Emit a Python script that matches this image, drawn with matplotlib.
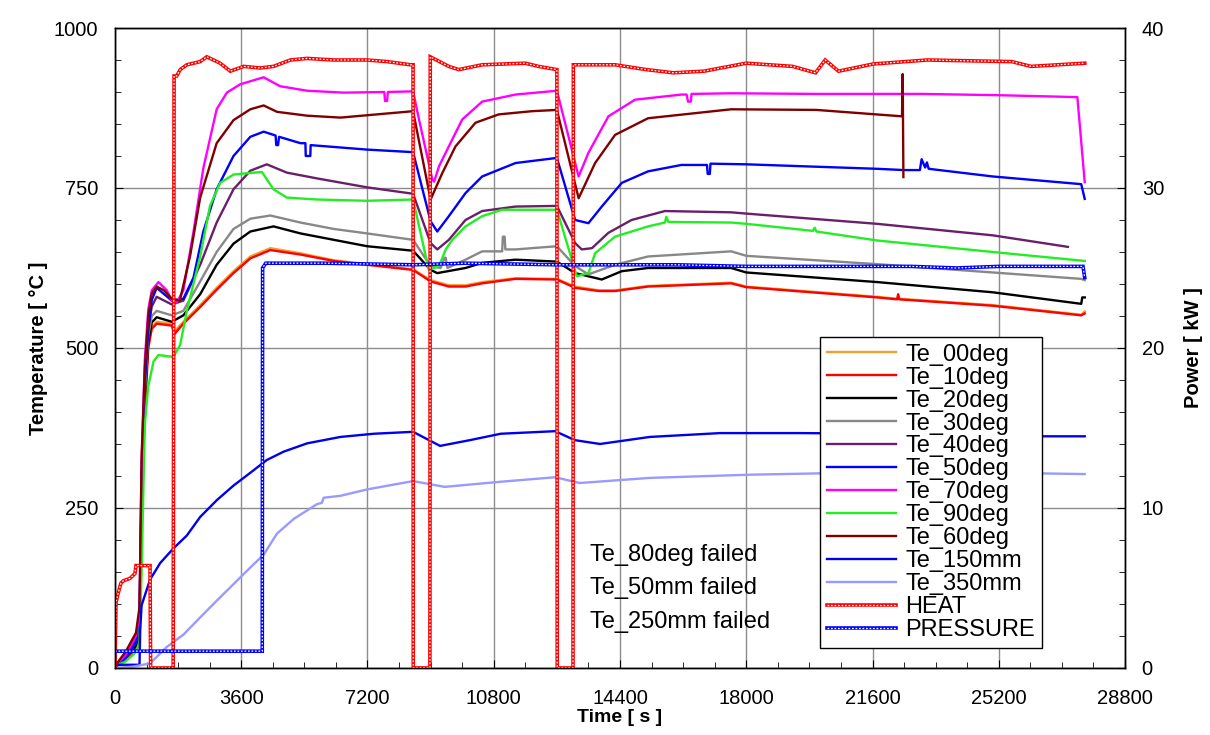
import matplotlib
matplotlib.use('Agg')
import matplotlib.pyplot as plt
from matplotlib.ticker import MultipleLocator

plt.rcParams['font.family'] = ['Liberation Sans', 'DejaVu Sans']

# temperature readings: time [s] / temperature [C]
t_10 = [0, 300, 600, 700, 760, 850, 950, 1050, 1190, 1620, 1700, 1950, 2430, 2900, 3380, 3860, 4430, 5290, 6240, 7190,
        8500, 9000, 9520, 9995, 10470, 11420, 12600, 13120, 13800, 14260, 15200, 17570, 18000, 21730, 22300, 22330,
        22360, 25030, 27550, 27650]
te_10 = [3, 12, 30, 50, 240, 400, 500, 530, 538, 535, 522, 538, 564, 591, 617, 640, 653, 646, 636, 630,
         622, 604, 596, 596, 601, 608, 607, 594, 589, 589, 596, 601, 595, 579, 576, 584,
         576, 566, 551, 554]
t_00 = t_10
te_00 = [4, 14, 33, 55, 250, 405, 505, 533, 541, 538, 526, 541, 567, 594, 620, 643, 656, 648, 637, 631,
         623, 606, 598, 598, 603, 609, 608, 596, 590, 590, 597, 602, 596, 580, 577, 580,
         577, 567, 552, 557]

t_20 = [0, 300, 600, 700, 760, 850, 950, 1050, 1190, 1620, 1950, 2430, 2900, 3380, 3860, 4520, 5290, 6240, 7190,
        8500, 9000, 9190, 9995, 10470, 11420, 12600, 13120, 13500, 13880, 14450, 15200, 17570, 18000, 21730,
        25030, 27550, 27580, 27650]
te_20 = [3, 15, 35, 60, 260, 420, 510, 540, 548, 541, 551, 584, 630, 663, 682, 690, 679, 669, 659,
         652, 622, 617, 625, 633, 638, 635, 617, 612, 607, 620, 625, 625, 618, 603,
         587, 569, 579, 579]

t_30 = [0, 300, 600, 700, 760, 850, 950, 1050, 1190, 1620, 1950, 2430, 2900, 3380, 3860, 4430, 5290, 6240, 7190,
        8500, 9000, 9285, 9400, 9430, 9480, 9995, 10470, 11040, 11060, 11110, 11130, 11420, 12600, 13120, 13500,
        14260, 15200, 17570, 18000, 21730, 25030, 27550, 27650]
te_30 = [3, 15, 40, 70, 270, 430, 520, 550, 558, 551, 558, 604, 650, 686, 702, 707, 696, 686, 679,
         669, 628, 625, 641, 641, 625, 638, 651, 651, 674, 674, 654, 654, 659, 628, 615,
         630, 643, 651, 644, 631, 618, 608, 606]

t_40 = [0, 300, 600, 700, 760, 850, 950, 1050, 1190, 1620, 1950, 2430, 2900, 3380, 3860, 4330, 4900, 5760, 7190,
        8500, 9000, 9190, 9520, 9995, 10470, 11420, 12600, 13120, 13310, 13600, 14070, 14730, 15680, 17570, 18000,
        21730, 25030, 27170]
te_40 = [3, 20, 45, 80, 300, 440, 530, 565, 580, 568, 574, 630, 696, 748, 777, 787, 774, 765, 751,
         741, 664, 654, 669, 700, 714, 721, 722, 664, 654, 656, 680, 700, 714, 712, 710,
         694, 676, 658]

t_50 = [0, 300, 600, 700, 760, 850, 950, 1050, 1190, 1620, 1950, 2240, 2520, 2900, 3380, 3860, 4240, 4580, 4600,
        4650, 4680, 5290, 5430, 5440, 5570, 5580, 7190, 8500, 9000, 9190, 9520, 9995, 10470, 11420, 12600, 13120,
        13500, 13880, 14450, 15200, 16150, 16880, 16900, 16960, 16980, 18000, 21730, 22500, 22950, 23000, 23100,
        23150, 23200, 25030, 27550, 27650]
te_50 = [3, 15, 40, 70, 280, 450, 530, 575, 594, 574, 577, 610, 682, 748, 800, 830, 838, 832, 817,
         817, 830, 820, 820, 800, 800, 817, 810, 806, 698, 682, 706, 742, 768, 789, 797, 700,
         695, 721, 758, 776, 786, 786, 772, 772, 788, 787, 780, 778, 778, 795, 782,
         790, 780, 768, 756, 733]

t_70 = [0, 300, 600, 700, 760, 850, 950, 1050, 1240, 1480, 1620, 1760, 1950, 2240, 2520, 2900, 3190, 3570, 4240,
        4710, 5480, 6520, 7680, 7700, 7760, 7780, 8500, 8670, 9050, 9100, 9240, 9520, 9900, 10470, 11420, 12600,
        12740, 13220, 13500, 14070, 14830, 16150, 16300, 16340, 16420, 16440, 17570, 20000, 23000, 25200, 27440,
        27650]
te_70 = [3, 20, 50, 85, 320, 480, 560, 590, 603, 590, 574, 571, 590, 682, 781, 873, 899, 912, 923,
         909, 902, 899, 900, 886, 886, 900, 901, 857, 763, 760, 784, 815, 857, 885, 896, 902,
         872, 768, 805, 862, 888, 896, 896, 885, 885, 897, 898, 897, 897, 895, 892,
         759]

t_90 = [0, 300, 600, 700, 760, 850, 950, 1100, 1240, 1670, 1860, 2050, 2430, 2710, 3000, 3380, 3760, 4190, 4520,
        4900, 5760, 7190, 8500, 8950, 9240, 9430, 9620, 9995, 10470, 11040, 12600, 13170, 13500, 13690, 14260,
        15200, 15680, 15720, 15780, 17570, 18000, 19900, 19950, 20000, 21730, 25030, 27650]
te_90 = [3, 10, 25, 40, 150, 380, 440, 479, 489, 486, 505, 558, 643, 722, 758, 771, 773, 775, 748,
         735, 732, 730, 732, 622, 628, 654, 669, 690, 706, 716, 716, 612, 617, 648, 674,
         690, 696, 705, 697, 696, 694, 683, 688, 682, 668, 650, 636]

t_60 = [0, 300, 600, 700, 760, 850, 950, 1050, 1190, 1400, 1620, 1850, 2140, 2430, 2900, 3380, 3860, 4240, 4620,
        5480, 6430, 7670, 8500, 9000, 9330, 9710, 10280, 10940, 11890, 12600, 13220, 13690, 14260, 15200, 17570,
        20000, 22440, 22460, 22480]
te_60 = [3, 25, 55, 95, 330, 466, 550, 585, 596, 590, 577, 574, 643, 735, 820, 856, 873, 879, 869,
         863, 860, 866, 870, 732, 773, 815, 852, 865, 870, 872, 734, 789, 833, 859, 873,
         872, 862, 928, 767]

t_150 = [0, 100, 700, 720, 760, 1000, 1290, 1670, 2050, 2430, 2900, 3380, 3860, 4330, 4810, 5480, 6430, 7380,
         8500, 9270, 10120, 11000, 12550, 13110, 13830, 15250, 17250, 19530, 22380, 25230, 27650]
te_150 = [0, 5, 5, 60, 98, 138, 164, 187, 207, 236, 262, 285, 305, 325, 338, 351, 361, 366,
          369, 347, 356, 366, 370, 356, 350, 361, 367, 367, 366, 362, 362]

t_350 = [0, 500, 1000, 1480, 1950, 2430, 2900, 3380, 3860, 4240, 4620, 5100, 5760, 5900, 5950, 6430, 7190, 8500,
         9400, 11000, 12550, 13250, 15250, 18100, 20950, 25230, 27650]
te_350 = [0, 2, 7, 33, 52, 79, 105, 131, 157, 177, 210, 233, 256, 258, 266, 269, 279, 292,
          283, 291, 298, 289, 297, 302, 305, 305, 303]

# power readings: time [s] / kW
t_heat = [0, 30, 95, 170, 240, 430, 570, 600, 1000, 1017, 1660, 1686, 1760, 1860, 2050, 2430, 2620, 3000, 3290,
          3670, 4140, 4520, 5000, 5480, 6240, 7190, 7760, 8430, 8500, 8505, 8980, 8990, 9520, 9800, 10470, 11700,
          12080, 12600, 12610, 13060, 13070, 14260, 15150, 15920, 16790, 18000, 19320, 19975, 20250, 20630, 21620,
          23160, 25570, 26120, 27650]
p_heat = [0, 4.1, 4.7, 5.3, 5.45, 5.6, 5.9, 6.4, 6.4, 0, 0, 37.0, 37.0, 37.4, 37.7, 37.9, 38.2, 37.8, 37.3,
          37.6, 37.5, 37.6, 38.0, 38.1, 38.0, 38.0, 37.9, 37.7, 37.7, 0, 0, 38.2, 37.6, 37.4, 37.7, 37.8,
          37.6, 37.4, 0, 0, 37.7, 37.7, 37.4, 37.2, 37.3, 37.8, 37.6, 37.2, 38.0, 37.3, 37.75,
          38.0, 37.9, 37.6, 37.8]

t_pres = [0, 4200, 4210, 4300, 6000, 8500, 10000, 12600, 14000, 16000, 18000, 20000, 22700, 24000, 25200, 27000,
          27600, 27650]
p_pres = [1.05, 1.05, 25.0, 25.3, 25.3, 25.2, 25.3, 25.2, 25.2, 25.2, 25.1, 25.1, 25.1, 25.0, 25.1, 25.1,
          25.1, 24.4]

temp_series = [
    ('Te_00deg', t_00, te_00, '#F0A030'),
    ('Te_10deg', t_10, te_10, '#FF0000'),
    ('Te_20deg', t_20, te_20, '#000000'),
    ('Te_30deg', t_30, te_30, '#888888'),
    ('Te_40deg', t_40, te_40, '#6A1F6A'),
    ('Te_50deg', t_50, te_50, '#0000FF'),
    ('Te_70deg', t_70, te_70, '#FF00FF'),
    ('Te_90deg', t_90, te_90, '#22EE22'),
    ('Te_60deg', t_60, te_60, '#800000'),
    ('Te_150mm', t_150, te_150, '#0000EE'),
    ('Te_350mm', t_350, te_350, '#9999FF'),
]

fig = plt.figure(figsize=(12.1, 7.35), dpi=100)
ax = fig.add_axes([0.095, 0.0912, 0.8348, 0.8707])
ax2 = ax.twinx()

handles, labels = [], []
for name, tt, vv, col in temp_series:
    ln, = ax.plot(tt, vv, color=col, lw=1.7)
    handles.append(ln)
    labels.append(name)


def chain(axis, tt, vv, col):
    # coloured line with white dots -> looks like Excel circle markers
    a, = axis.plot(tt, vv, color=col, lw=2.6, solid_joinstyle='miter')
    b, = axis.plot(tt, vv, color='white', lw=0.9, linestyle=(0, (1.4, 1.4)))
    return (a, b)


handles.append(chain(ax2, t_heat, p_heat, '#FF0000'))
labels.append('HEAT')
handles.append(chain(ax2, t_pres, p_pres, '#0000FF'))
labels.append('PRESSURE')

ax.set_xlim(0, 28800)
ax.set_ylim(0, 1000)
ax2.set_ylim(0, 40)
ax.xaxis.set_major_locator(MultipleLocator(3600))
ax.xaxis.set_minor_locator(MultipleLocator(900))
ax.yaxis.set_major_locator(MultipleLocator(250))
ax.yaxis.set_minor_locator(MultipleLocator(50))
ax2.yaxis.set_major_locator(MultipleLocator(10))
ax2.yaxis.set_minor_locator(MultipleLocator(2))

ax.grid(which='major', color='#8c8c8c', lw=1.0)
ax.set_axisbelow(True)
for a in (ax, ax2):
    a.tick_params(which='major', direction='in', length=6, labelsize=14.5, pad=12)
    a.tick_params(which='minor', direction='in', length=4)
    for sp in a.spines.values():
        sp.set_linewidth(1.0)
ax.tick_params(axis='x', pad=15)

ax.set_xlabel('Time [ s ]', fontsize=14, fontweight='bold', labelpad=1)
ax.set_ylabel('Temperature [ °C ]', fontsize=14.5, fontweight='bold', labelpad=4)
ax2.set_ylabel('Power [ kW ]', fontsize=14.5, fontweight='bold', labelpad=14, rotation=90)

for txt, yy in (('Te_80deg failed', 177), ('Te_50mm failed', 125), ('Te_250mm failed', 72)):
    ax.text(13550, yy, txt, fontsize=17, va='center', ha='left')

leg = ax2.legend(handles, labels, loc='lower left', bbox_to_anchor=(0.698, 0.031), fontsize=17,
                 labelspacing=0.04, handlelength=2.9, handletextpad=0.4, borderpad=0.3,
                 borderaxespad=0, fancybox=False, framealpha=1, edgecolor='black')
leg.get_frame().set_linewidth(1.0)

fig.savefig('out.png', dpi=100)
